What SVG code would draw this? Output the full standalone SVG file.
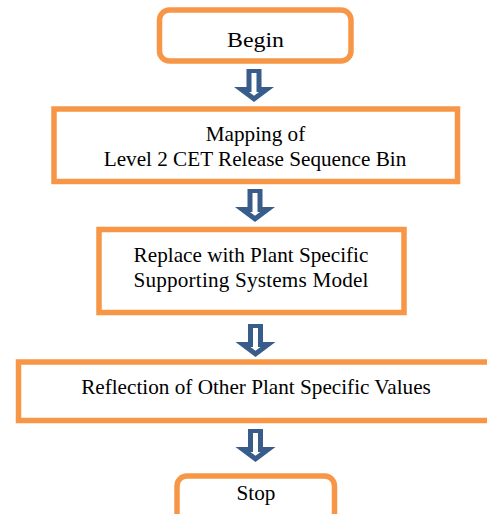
<svg xmlns="http://www.w3.org/2000/svg" width="487" height="514" viewBox="0 0 487 514">
  <style>
    .box { fill: #ffffff; stroke: #f79646; stroke-width: 5.5; }
    .lbl { font-family: "Liberation Serif", "Times New Roman", serif; font-size: 21.2px; fill: #000000; text-anchor: middle; }
    .arrOut { fill: #385d8a; }
    .arrIn { fill: #ffffff; }
  </style>
  <defs>
    <g id="downArrow">
      <path class="arrOut" d="M-7.5,0 H7.5 V18 H20 L0,33 L-20,18 H-7.5 Z"/>
      <path class="arrIn" d="M-2.5,4 H2.5 V23 H5 L0,26.8 L-5,23 H-2.5 Z"/>
    </g>
  </defs>
  <rect width="487" height="514" fill="#ffffff"/>

  <g id="connectors">
    <use href="#downArrow" transform="translate(254,69)"/>
    <use href="#downArrow" transform="translate(255,189)"/>
    <use href="#downArrow" transform="translate(255.5,324)"/>
    <use href="#downArrow" transform="translate(255.5,429)"/>
  </g>

  <g id="begin">
    <rect class="box" x="159.5" y="10" width="191.5" height="51" rx="10" ry="10"/>
    <text class="lbl" x="255.5" y="46.5" textLength="57" lengthAdjust="spacingAndGlyphs">Begin</text>
  </g>

  <g id="mapping">
    <rect class="box" x="54" y="109" width="403.5" height="72.5"/>
    <text class="lbl" x="255.5" y="140.5">Mapping of</text>
    <text class="lbl" x="255" y="166">Level 2 CET Release Sequence Bin</text>
  </g>

  <g id="replace">
    <rect class="box" x="99" y="229.5" width="305" height="83"/>
    <text class="lbl" x="251" y="261.5">Replace with Plant Specific</text>
    <text class="lbl" x="251" y="286.5" textLength="235" lengthAdjust="spacing">Supporting Systems Model</text>
  </g>

  <g id="reflection">
    <rect class="box" x="18.5" y="362" width="480" height="58.5"/>
    <text class="lbl" x="256" y="393.5">Reflection of Other Plant Specific Values</text>
  </g>

  <g id="stop">
    <rect class="box" x="177" y="476" width="157.5" height="52" rx="10" ry="10"/>
    <text class="lbl" x="256" y="500">Stop</text>
  </g>
</svg>
